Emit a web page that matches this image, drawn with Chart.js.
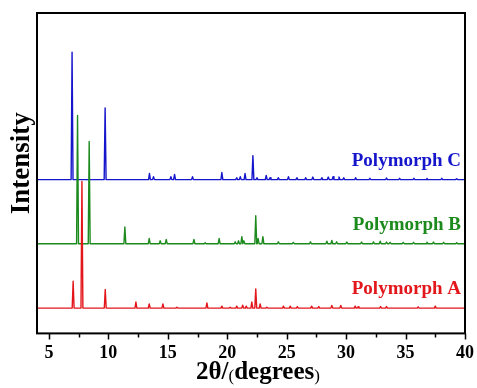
<!DOCTYPE html>
<html>
<head>
<meta charset="utf-8">
<script src="https://cdn.jsdelivr.net/npm/chart.js@4.4.1/dist/chart.umd.min.js"></script>
<style>
  html, body { margin: 0; padding: 0; background: #fff; }
</style>
</head>
<body>
<canvas id="xrd" width="477" height="388"></canvas>
<script>
// x axis ticks, 2θ in degrees
const majorTicks = [5, 10, 15, 20, 25, 30, 35, 40];
const minorTicks = [7.5, 12.5, 17.5, 22.5, 27.5, 32.5, 37.5];

const seriesNames = ['Polymorph A', 'Polymorph B', 'Polymorph C'];
// vertical offset of each pattern (plot units, axis runs 0-100)
const baselines = [7.9, 28.0, 48.0];

// peak positions (2θ) and peak heights above the baseline
const peaksA = [7.04, 7.78, 9.74, 12.32, 13.44, 14.59, 15.77, 18.29, 19.55, 20.25, 20.8, 21.3, 21.6,
  22.07, 22.4, 22.77, 23.33, 24.73, 25.3, 25.9, 27.1, 27.7, 28.8, 29.55, 30.76, 31.0, 32.9, 33.4, 36.06, 37.5];
const heightsA = [8.4, 39.5, 5.8, 1.9, 1.3, 1.3, 0.3, 1.6, 0.6, 0.3, 0.6, 0.9, 0.6,
  1.9, 6.0, 1.3, 0.3, 0.6, 0.6, 0.5, 0.6, 0.5, 0.8, 0.8, 0.6, 0.4, 0.5, 0.5, 0.4, 0.6];

const peaksB = [7.41, 8.39, 11.39, 13.44, 14.36, 14.87, 17.2, 18.15, 19.32, 20.67, 20.95, 21.23, 21.4,
  22.4, 22.6, 23.0, 24.3, 25.56, 27.0, 28.38, 28.8, 29.2, 30.06, 31.3, 32.3, 32.87, 33.4, 33.7,
  34.8, 35.67, 36.8, 37.35, 38.2, 39.3];
const heightsB = [40.0, 31.9, 5.2, 1.6, 0.9, 1.3, 1.3, 0.3, 1.6, 0.6, 0.9, 2.2, 0.9,
  8.7, 1.6, 2.2, 0.6, 0.4, 0.6, 0.8, 1.0, 0.6, 0.5, 0.5, 0.6, 0.8, 0.5, 0.4,
  0.4, 0.4, 0.5, 0.5, 0.4, 0.3];

const peaksC = [6.95, 9.73, 13.46, 13.8, 15.26, 15.57, 17.08, 19.55, 20.8, 21.1, 21.5, 22.16, 22.5,
  23.28, 23.6, 24.3, 25.15, 25.86, 26.6, 27.2, 27.96, 28.5, 28.9, 29.4, 29.8, 30.8, 32.0, 33.4,
  34.5, 35.7, 36.8, 38.05, 39.3];
const heightsC = [39.8, 22.4, 1.9, 0.9, 0.9, 1.6, 0.9, 2.2, 0.6, 0.9, 1.9, 7.5, 0.6,
  1.3, 0.6, 0.6, 0.9, 0.6, 0.6, 0.8, 0.6, 0.8, 0.9, 0.8, 0.6, 0.6, 0.4, 0.5,
  0.4, 0.4, 0.4, 0.4, 0.3];

const lineColors = ['#e3161b', '#1d8a1d', '#1515cc'];
const PEAK_HALF_WIDTH = 0.08;
const SERIF = '"Liberation Serif", "Times New Roman", serif';

// turn a peak list into a stick-like line: flat baseline with a narrow spike per peak
function buildProfile(base, pos, h) {
    const pts = [{ x: 4, y: base }];
    pos.forEach((p, i) => {
        pts.push({ x: p - PEAK_HALF_WIDTH, y: base });
        pts.push({ x: p, y: base + h[i] });
        pts.push({ x: p + PEAK_HALF_WIDTH, y: base });
    });
    pts.push({ x: 40, y: base });
    return pts;
}

const profiles = [
    buildProfile(baselines[0], peaksA, heightsA),
    buildProfile(baselines[1], peaksB, heightsB),
    buildProfile(baselines[2], peaksC, heightsC)
];

// frame, minor ticks, series labels and axis titles
const decorations = {
    id: 'decorations',
    afterDraw(chart) {
        const ctx = chart.ctx;
        const area = chart.chartArea;
        const xs = chart.scales.x;
        const ys = chart.scales.y;
        ctx.save();

        ctx.strokeStyle = '#000';
        ctx.lineWidth = 2;
        ctx.strokeRect(area.left, area.top, area.right - area.left, area.bottom - area.top);

        ctx.lineWidth = 1.5;
        ctx.beginPath();
        majorTicks.forEach(v => {
            const px = Math.round(xs.getPixelForValue(v)) + 0.5;
            ctx.moveTo(px, area.bottom);
            ctx.lineTo(px, area.bottom + 6);
        });
        minorTicks.forEach(v => {
            const px = Math.round(xs.getPixelForValue(v)) + 0.5;
            ctx.moveTo(px, area.bottom);
            ctx.lineTo(px, area.bottom + 4);
        });
        ctx.stroke();

        // series labels
        ctx.font = 'bold 19px ' + SERIF;
        ctx.textAlign = 'right';
        ctx.textBaseline = 'middle';
        seriesNames.forEach((name, i) => {
            ctx.fillStyle = lineColors[i];
            ctx.fillText(name, area.right - 4, ys.getPixelForValue(baselines[i]) - 19);
        });

        // x title with small brackets
        const parts = [
            { t: '2θ/', f: 'bold 25px ' + SERIF },
            { t: '(', f: '17px ' + SERIF },
            { t: 'degrees', f: 'bold 25px ' + SERIF },
            { t: ')', f: '17px ' + SERIF }
        ];
        let total = 0;
        parts.forEach(p => { ctx.font = p.f; p.w = ctx.measureText(p.t).width; total += p.w; });
        let cx = (area.left + area.right) / 2 + 7 - total / 2;
        ctx.fillStyle = '#000';
        ctx.textAlign = 'left';
        ctx.textBaseline = 'alphabetic';
        parts.forEach(p => {
            ctx.font = p.f;
            ctx.fillText(p.t, cx, p.w < 10 ? 381 : 379);
            cx += p.w;
        });

        // y title
        ctx.translate(22, (area.top + area.bottom) / 2 - 10);
        ctx.rotate(-Math.PI / 2);
        ctx.font = 'bold 27px ' + SERIF;
        ctx.textAlign = 'center';
        ctx.textBaseline = 'middle';
        ctx.fillText('Intensity', 0, 0);
        ctx.restore();
    }
};

new Chart(document.getElementById('xrd'), {
    type: 'line',
    data: {
        datasets: profiles.map((pts, i) => ({
            label: seriesNames[i],
            data: pts,
            borderColor: lineColors[i],
            borderWidth: 1.4,
            borderJoinStyle: 'round',
            pointRadius: 0,
            tension: 0,
            fill: false
        }))
    },
    options: {
        responsive: false,
        animation: false,
        devicePixelRatio: 1,
        layout: { padding: { left: 37, right: 12, top: 13, bottom: 15 } },
        plugins: { legend: { display: false }, tooltip: { enabled: false } },
        scales: {
            x: {
                type: 'linear',
                min: 4,
                max: 40,
                afterBuildTicks: axis => { axis.ticks = majorTicks.map(v => ({ value: v })); },
                // the "40" label may hang into the right margin, don't shrink the plot for it
                afterFit: axis => { axis.paddingLeft = 0; axis.paddingRight = 0; },
                grid: { display: false, drawTicks: false },
                border: { display: false },
                ticks: {
                    color: '#000',
                    padding: 9,
                    maxRotation: 0,
                    autoSkip: false,
                    font: { family: SERIF, size: 18, weight: 'bold' }
                }
            },
            y: {
                display: false,
                min: 0,
                max: 100
            }
        }
    },
    plugins: [decorations]
});
</script>
</body>
</html>
